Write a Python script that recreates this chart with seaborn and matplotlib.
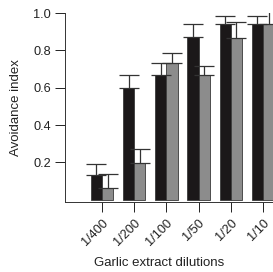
import pandas as pd
import matplotlib
matplotlib.use("Agg")
import matplotlib.pyplot as plt
import seaborn as sns

# values
dilutions = ["1/400", "1/200", "1/100", "1/50", "1/20", "1/10"]
black_vals = [0.13, 0.60, 0.67, 0.87, 0.94, 0.94]
black_err = [0.06, 0.07, 0.06, 0.07, 0.045, 0.045]
gray_vals = [0.065, 0.195, 0.735, 0.67, 0.865, 0.94]
gray_err = [0.075, 0.075, 0.05, 0.045, 0.085, 0.08]

df = pd.DataFrame({
    "dilution": dilutions * 2,
    "group": ["A"] * 6 + ["B"] * 6,
    "value": black_vals + gray_vals,
})

sns.set_style("ticks")
plt.rcParams["font.family"] = ["Liberation Sans", "DejaVu Sans"]

fig = plt.figure(figsize=(2.73, 2.72), dpi=100)
ax = fig.add_axes([0.238, 0.257, 0.762, 0.695])

sns.barplot(data=df, x="dilution", y="value", hue="group", ax=ax,
            palette=["#1b1819", "#8c8c8c"], edgecolor="#3a3a3a",
            linewidth=0.6, width=0.7, errorbar=None, legend=False)

# upper-only error bars at the centres of the bars seaborn drew
errs = black_err + gray_err
vals = black_vals + gray_vals
for patch, v, e in zip(ax.patches[:12], vals, errs):
    xc = patch.get_x() + patch.get_width() / 2
    ax.errorbar(xc, v, yerr=[[0], [e]], fmt="none", ecolor="#333333",
                elinewidth=0.9, capsize=7, capthick=0.9)

ax.set_xlim(-1.15, 5.31)
ax.set_ylim(-0.013, 1.0)
ax.set_yticks([0.2, 0.4, 0.6, 0.8, 1.0])
ax.set_yticklabels(["0.2", "0.4", "0.6", "0.8", "1.0"])
ax.tick_params(axis="y", length=7, width=0.7, labelsize=9.2, pad=3,
               colors="#222222")
ax.tick_params(axis="x", length=7, width=0.7, labelsize=9.2, pad=3.5,
               colors="#222222")
for lab in ax.get_xticklabels():
    lab.set_rotation(45)
    lab.set_ha("right")
    lab.set_rotation_mode("anchor")

for s in ["top", "right"]:
    ax.spines[s].set_visible(False)
for s in ["left", "bottom"]:
    ax.spines[s].set_linewidth(0.7)
    ax.spines[s].set_color("#333333")

ax.set_ylabel("Avoidance index", fontsize=9.5, color="#222222")
ax.set_xlabel("Garlic extract dilutions", fontsize=9.5, color="#222222")
ax.yaxis.set_label_coords(-0.205, 0.5)
ax.xaxis.set_label_coords(0.452, -0.29)

fig.savefig("out.png", dpi=100)
